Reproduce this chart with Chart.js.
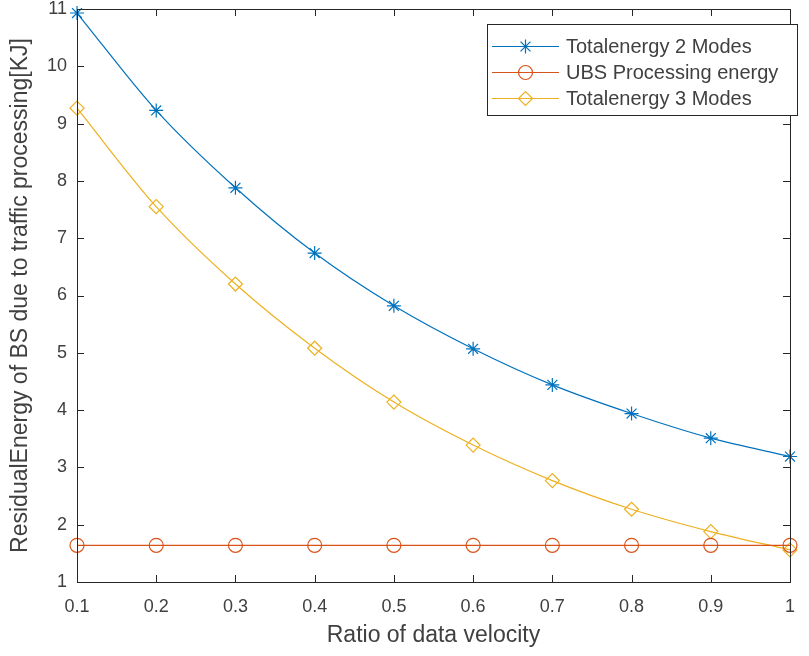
<!DOCTYPE html>
<html>
<head>
<meta charset="utf-8">
<script src="https://cdn.jsdelivr.net/npm/chart.js@4.4.1/dist/chart.umd.min.js"></script>
<style>
    body { margin: 0; background: #fff; }
    canvas { display: block; }
</style>
</head>
<body>
<canvas id="energyChart" width="809" height="656"></canvas>
<script>
// values
var velocity = [0.1, 0.2, 0.3, 0.4, 0.5, 0.6, 0.7, 0.8, 0.9, 1.0];
var total2Modes = [10.93, 9.23, 7.88, 6.74, 5.82, 5.07, 4.44, 3.94, 3.51, 3.19];
var ubsProcessing = [1.64, 1.64, 1.64, 1.64, 1.64, 1.64, 1.64, 1.64, 1.64, 1.64];
var total3Modes = [9.27, 7.55, 6.20, 5.08, 4.14, 3.39, 2.77, 2.27, 1.88, 1.56];
var yTicks = [1, 2, 3, 4, 5, 6, 7, 8, 9, 10, 11];

var textColor = '#404040';
var axisColor = '#262626';
var fontFamily = 'Arial, "Liberation Sans", Helvetica, sans-serif';

function toPoints(arr) {
    return velocity.map(function (x, i) { return { x: x, y: arr[i] }; });
}

function series(label, arr, color, style) {
    return {
        label: label,
        data: toPoints(arr),
        borderColor: color,
        backgroundColor: 'rgba(0,0,0,0)',
        borderWidth: 1.2,
        pointStyle: style,
        pointRadius: 7,
        pointBorderWidth: 1.2,
        pointBorderColor: color,
        pointBackgroundColor: 'rgba(0,0,0,0)',
        cubicInterpolationMode: 'monotone',
        fill: false,
        clip: false
    };
}

// MATLAB style box with inward ticks on all four sides
var boxPlugin = {
    id: 'matlabBox',
    afterDatasetsDraw: function (chart) {
        var ctx = chart.ctx, a = chart.chartArea;
        var xs = chart.scales.x, ys = chart.scales.y;
        ctx.save();
        ctx.strokeStyle = axisColor;
        ctx.lineWidth = 1;
        ctx.strokeRect(Math.round(a.left) + 0.5, Math.round(a.top) + 0.5,
            Math.round(a.right - a.left), Math.round(a.bottom - a.top));
        ctx.beginPath();
        xs.ticks.forEach(function (t) {
            var px = Math.round(xs.getPixelForValue(t.value)) + 0.5;
            ctx.moveTo(px, a.bottom); ctx.lineTo(px, a.bottom - 7);
            ctx.moveTo(px, a.top); ctx.lineTo(px, a.top + 7);
        });
        ys.ticks.forEach(function (t) {
            var py = Math.round(ys.getPixelForValue(t.value)) + 0.5;
            ctx.moveTo(a.left, py); ctx.lineTo(a.left + 7, py);
            ctx.moveTo(a.right, py); ctx.lineTo(a.right - 7, py);
        });
        ctx.stroke();
        ctx.restore();
    },
    afterDraw: function (chart) {
        // legend inside the axes, top right
        var ctx = chart.ctx;
        var left = 487, top = 24, w = 310, h = 91;
        ctx.save();
        ctx.fillStyle = '#fff';
        ctx.fillRect(left, top, w, h);
        ctx.strokeStyle = axisColor;
        ctx.lineWidth = 1;
        ctx.strokeRect(left + 0.5, top + 0.5, w, h);
        ctx.font = '20px ' + fontFamily;
        ctx.textBaseline = 'middle';
        chart.data.datasets.forEach(function (ds, i) {
            var y = top + 22 + i * 26;
            ctx.strokeStyle = ds.borderColor;
            ctx.lineWidth = 1.2;
            ctx.beginPath();
            ctx.moveTo(left + 5, y + 0.5);
            ctx.lineTo(left + 72, y + 0.5);
            ctx.stroke();
            ctx.fillStyle = 'rgba(0,0,0,0)';
            Chart.helpers.drawPoint(ctx, {
                pointStyle: ds.pointStyle, radius: 7, rotation: 0, borderWidth: 1.2
            }, left + 38.5, y + 0.5);
            ctx.fillStyle = textColor;
            ctx.fillText(ds.label, left + 79, y + 1);
        });
        ctx.restore();
    }
};

new Chart('energyChart', {
    type: 'line',
    data: {
        datasets: [
            series('Totalenergy 2 Modes', total2Modes, '#0072BD', 'star'),
            series('UBS Processing energy', ubsProcessing, '#D95319', 'circle'),
            series('Totalenergy 3 Modes', total3Modes, '#EDB120', 'rectRot')
        ]
    },
    options: {
        responsive: false,
        animation: false,
        layout: {
            padding: { top: 9, right: 0, bottom: 0, left: 0 }
        },
        scales: {
            x: {
                type: 'linear',
                min: 0.1,
                max: 1,
                afterFit: function (scale) { scale.height = 74; },
                grid: { display: false, drawTicks: false },
                border: { display: false },
                ticks: {
                    stepSize: 0.1,
                    padding: 14,
                    color: textColor,
                    font: { size: 18, family: fontFamily },
                    callback: function (v) { return String(+v.toFixed(1)); }
                },
                title: {
                    display: true,
                    text: 'Ratio of data velocity',
                    color: textColor,
                    font: { size: 23, family: fontFamily },
                    padding: { top: 2, bottom: 7 }
                }
            },
            y: {
                type: 'linear',
                min: yTicks[0],
                max: yTicks[yTicks.length - 1],
                afterFit: function (scale) {
                    scale.width = 77;
                    scale.paddingTop = 0; // let the top label overhang like MATLAB
                },
                afterBuildTicks: function (scale) {
                    scale.ticks = yTicks.map(function (v) { return { value: v }; });
                },
                grid: { display: false, drawTicks: false },
                border: { display: false },
                ticks: {
                    padding: 10,
                    color: textColor,
                    font: { size: 18, family: fontFamily }
                },
                title: {
                    display: true,
                    text: 'ResidualEnergy of BS due to traffic processing[KJ]',
                    color: textColor,
                    font: { size: 23, family: fontFamily },
                    padding: { top: 7, bottom: 0 }
                }
            }
        },
        plugins: {
            legend: { display: false },
            tooltip: { enabled: false }
        }
    },
    plugins: [boxPlugin]
});
</script>
</body>
</html>
